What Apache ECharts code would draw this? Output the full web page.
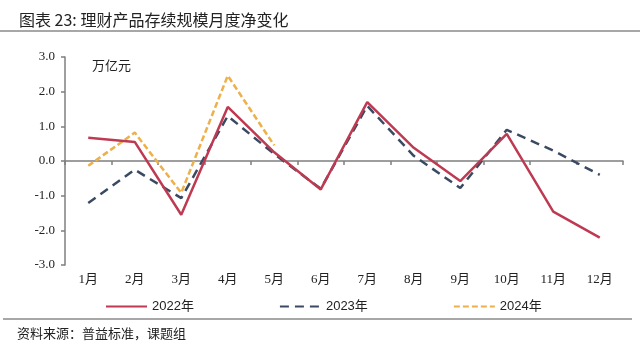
<!DOCTYPE html>
<html><head><meta charset="utf-8">
<script src="https://cdn.jsdelivr.net/npm/echarts@6/dist/echarts.min.js"></script>
<style>html,body{margin:0;padding:0;background:#fff;}#c{width:640px;height:351px;}</style>
</head><body><div id="c"></div>
<script>
var categories = ['1月','2月','3月','4月','5月','6月','7月','8月','9月','10月','11月','12月'];
var s2022 = [0.67, 0.55, -1.55, 1.56, 0.25, -0.82, 1.70, 0.38, -0.58, 0.78, -1.46, -2.21];
var s2023 = [-1.21, -0.25, -1.07, 1.30, 0.20, -0.80, 1.59, 0.15, -0.78, 0.90, 0.30, -0.40];
var s2024 = [-0.14, 0.82, -0.92, 2.46, 0.45, null, null, null, null, null, null, null];
var seriesNames = ['2022年','2023年','2024年'];
var yTicks = {min: -3, max: 3, interval: 1};

var chart = echarts.init(document.getElementById('c'));
var axisGray = '#7f7f7f';
var serif = '"Liberation Serif","Noto Sans CJK SC",serif';
chart.setOption({
  animation: false,
  backgroundColor: '#fff',
  title: [{
    text: '图表 23: 理财产品存续规模月度净变化',
    left: 14, top: 7,
    textStyle: {fontSize: 16, fontWeight: 'normal', color: '#222', fontFamily: '"Noto Sans CJK SC",sans-serif'}
  },{
    text: '资料来源：普益标准，课题组',
    left: 12, top: 322,
    textStyle: {fontSize: 13, fontWeight: 'normal', color: '#222', fontFamily: '"Noto Sans CJK SC",sans-serif'}
  },{
    text: '万亿元',
    left: 87, top: 54,
    textStyle: {fontSize: 13, fontWeight: 'normal', color: '#222', fontFamily: '"Noto Sans CJK SC",sans-serif'}
  }],
  graphic: [
    {type: 'line', shape: {x1: 0, y1: 31, x2: 640, y2: 31}, style: {stroke: '#8a8a8a', lineWidth: 1.5}},
    {type: 'line', shape: {x1: 3, y1: 319, x2: 632, y2: 319}, style: {stroke: '#8a8a8a', lineWidth: 1.5}}
  ],
  legend: {
    show: true,
    data: seriesNames,
    left: 100, top: 295,
    itemWidth: 41, itemHeight: 14, itemGap: 85,
    itemStyle: {color: 'rgba(0,0,0,0)', borderColor: 'rgba(0,0,0,0)', borderWidth: 0, opacity: 0},
    textStyle: {fontSize: 13, color: '#222', fontFamily: '"Liberation Sans","Noto Sans CJK SC",sans-serif'}
  },
  grid: {left: 65, right: 17, top: 57, bottom: 86},
  xAxis: [{
    type: 'category', data: categories, position: 'bottom',
    axisLine: {show: false, onZero: false}, axisTick: {show: false},
    axisLabel: {fontSize: 13, color: '#222', fontFamily: serif, margin: 8}
  },{
    type: 'category', data: categories, position: 'bottom',
    axisLine: {show: true, onZero: true, lineStyle: {color: axisGray, width: 1.5}},
    axisTick: {show: true, length: 4, inside: false, lineStyle: {color: axisGray, width: 1.5}},
    axisLabel: {show: false}
  }],
  yAxis: {
    type: 'value', min: yTicks.min, max: yTicks.max, interval: yTicks.interval,
    axisLine: {show: true, lineStyle: {color: axisGray, width: 1.5}},
    axisTick: {show: true, length: 4, lineStyle: {color: axisGray, width: 1.5}},
    splitLine: {show: false},
    axisLabel: {fontSize: 13, color: '#222', fontFamily: serif, margin: 10,
      formatter: function(v){ return v.toFixed(1); }}
  },
  series: [{
    name: seriesNames[0], type: 'line', data: s2022, symbol: 'none', xAxisIndex: 0,
    lineStyle: {color: '#BE3A52', width: 2.5}, itemStyle: {color: '#BE3A52'}, z: 3
  },{
    name: seriesNames[1], type: 'line', data: s2023, symbol: 'none', xAxisIndex: 0,
    lineStyle: {color: '#3A4A62', width: 2.5, type: [9, 6]}, itemStyle: {color: '#3A4A62'}, z: 2
  },{
    name: seriesNames[2], type: 'line', data: s2024, symbol: 'none', xAxisIndex: 0,
    lineStyle: {color: '#EDB04A', width: 2.5, type: [6, 3]}, itemStyle: {color: '#EDB04A'}, z: 1
  }]
});
</script></body></html>
